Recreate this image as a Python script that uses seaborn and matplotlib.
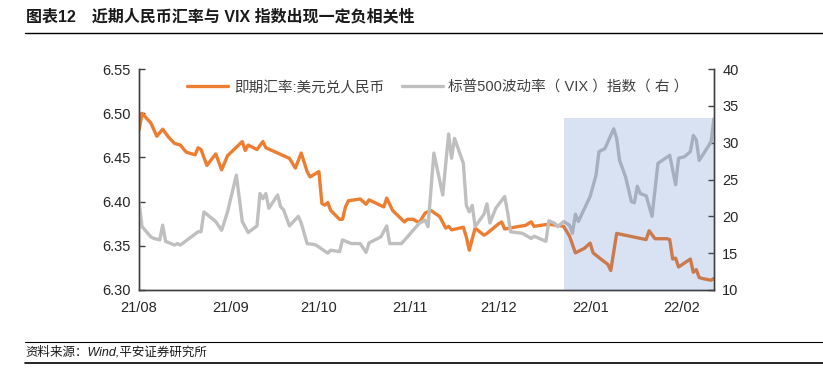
import pandas as pd
import matplotlib
matplotlib.use("Agg")
import matplotlib.pyplot as plt
import matplotlib.dates as mdates
import seaborn as sns

# USD/CNY spot rate (left axis)
cny_dates = ["2021-08-01", "2021-08-02", "2021-08-05", "2021-08-07", "2021-08-09", "2021-08-11",
             "2021-08-13", "2021-08-15", "2021-08-17", "2021-08-20", "2021-08-21", "2021-08-22",
             "2021-08-24", "2021-08-27", "2021-08-29", "2021-08-31", "2021-09-05", "2021-09-06",
             "2021-09-07", "2021-09-10", "2021-09-12", "2021-09-13", "2021-09-21", "2021-09-23",
             "2021-09-25", "2021-09-27", "2021-09-28", "2021-10-01", "2021-10-02", "2021-10-03",
             "2021-10-04", "2021-10-05", "2021-10-08", "2021-10-09", "2021-10-10", "2021-10-11",
             "2021-10-15", "2021-10-17", "2021-10-18", "2021-10-23", "2021-10-24", "2021-10-26",
             "2021-10-30", "2021-10-31", "2021-11-02", "2021-11-04", "2021-11-06", "2021-11-08",
             "2021-11-11", "2021-11-13", "2021-11-14", "2021-11-15", "2021-11-19", "2021-11-20",
             "2021-11-21", "2021-11-23", "2021-11-26", "2021-11-27", "2021-12-01", "2021-12-02",
             "2021-12-03", "2021-12-08", "2021-12-10", "2021-12-12", "2021-12-13", "2021-12-17",
             "2021-12-19", "2021-12-23", "2021-12-25", "2021-12-27", "2021-12-30", "2022-01-01",
             "2022-01-02", "2022-01-05", "2022-01-07", "2022-01-08", "2022-01-10", "2022-01-20",
             "2022-01-21", "2022-01-23", "2022-01-27", "2022-01-28", "2022-01-29", "2022-01-30",
             "2022-01-31", "2022-02-04", "2022-02-05", "2022-02-06", "2022-02-07", "2022-02-08",
             "2022-02-11", "2022-02-12"]
cny_values = [6.481, 6.500, 6.489, 6.474, 6.482, 6.473,
              6.466, 6.464, 6.456, 6.453, 6.461, 6.459,
              6.441, 6.454, 6.436, 6.452, 6.468, 6.458,
              6.464, 6.459, 6.468, 6.461, 6.449, 6.438,
              6.455, 6.434, 6.428, 6.434, 6.398, 6.396,
              6.399, 6.390, 6.380, 6.380, 6.394, 6.401,
              6.403, 6.397, 6.402, 6.394, 6.404, 6.390,
              6.377, 6.380, 6.380, 6.376, 6.387, 6.390,
              6.383, 6.370, 6.372, 6.368, 6.371, 6.360,
              6.345, 6.370, 6.362, 6.364, 6.375, 6.377,
              6.369, 6.372, 6.373, 6.377, 6.372, 6.374,
              6.374, 6.372, 6.361, 6.342, 6.347, 6.353,
              6.342, 6.334, 6.329, 6.322, 6.364, 6.357,
              6.367, 6.358, 6.358, 6.357, 6.335, 6.336,
              6.326, 6.335, 6.320, 6.323, 6.314, 6.313,
              6.311, 6.313]

# VIX index (right axis)
vix_dates = ["2021-08-01", "2021-08-02", "2021-08-05", "2021-08-06", "2021-08-08", "2021-08-09",
             "2021-08-10", "2021-08-13", "2021-08-14", "2021-08-15", "2021-08-16", "2021-08-21",
             "2021-08-22", "2021-08-23", "2021-08-27", "2021-08-29", "2021-08-31", "2021-09-03",
             "2021-09-05", "2021-09-07", "2021-09-10", "2021-09-11", "2021-09-12", "2021-09-13",
             "2021-09-14", "2021-09-17", "2021-09-18", "2021-09-19", "2021-09-21", "2021-09-24",
             "2021-09-25", "2021-09-27", "2021-09-29", "2021-09-30", "2021-10-04", "2021-10-05",
             "2021-10-08", "2021-10-09", "2021-10-12", "2021-10-15", "2021-10-17", "2021-10-18",
             "2021-10-22", "2021-10-24", "2021-10-25", "2021-10-29", "2021-10-31", "2021-11-04",
             "2021-11-06", "2021-11-07", "2021-11-09", "2021-11-12", "2021-11-14", "2021-11-15",
             "2021-11-16", "2021-11-19", "2021-11-20", "2021-11-21", "2021-11-22", "2021-11-23",
             "2021-11-26", "2021-11-27", "2021-11-28", "2021-11-30", "2021-12-03", "2021-12-04",
             "2021-12-05", "2021-12-09", "2021-12-12", "2021-12-13", "2021-12-17", "2021-12-18",
             "2021-12-20", "2021-12-21", "2021-12-23", "2021-12-25", "2021-12-26", "2021-12-27",
             "2021-12-28", "2022-01-01", "2022-01-03", "2022-01-04", "2022-01-06", "2022-01-09",
             "2022-01-10", "2022-01-11", "2022-01-13", "2022-01-15", "2022-01-16", "2022-01-17",
             "2022-01-18", "2022-01-20", "2022-01-22", "2022-01-24", "2022-01-28", "2022-01-30",
             "2022-01-31", "2022-02-02", "2022-02-04", "2022-02-05", "2022-02-06", "2022-02-07",
             "2022-02-11", "2022-02-12"]
vix_values = [21.85, 18.6, 17.2, 17.0, 16.8, 18.8,
              16.6, 16.1, 16.3, 16.1, 16.4, 17.9,
              17.9, 20.6, 19.3, 18.1, 20.6, 25.6,
              19.3, 17.8, 18.7, 23.1, 22.4, 23.1,
              21.1, 22.9, 21.3, 20.9, 18.7, 20.0,
              19.1, 16.3, 16.2, 16.1, 15.0, 15.4,
              15.2, 16.8, 16.3, 16.3, 15.1, 16.4,
              17.2, 18.7, 16.3, 16.3, 17.2, 19.05,
              19.5, 18.6, 28.6, 22.9, 31.2, 27.9,
              30.6, 27.2, 21.5, 20.6, 21.5, 18.6,
              20.3, 21.7, 19.1, 21.1, 22.7, 20.6,
              17.9, 17.7, 17.0, 17.3, 16.6, 19.4,
              19.05, 18.6, 19.3, 18.8, 17.7, 20.3,
              19.3, 22.7, 25.6, 28.8, 29.2, 31.9,
              30.6, 27.6, 25.4, 22.0, 21.85, 24.1,
              23.1, 22.8, 20.0, 27.2, 28.3, 24.3,
              27.9, 28.1, 28.8, 31.0, 30.4, 27.6,
              30.1, 33.3]

shade_start = "2021-12-23"
shade_end = "2022-02-12"
shade_top = 33.3

cny_label = "即期汇率:美元兑人民币"
vix_label = "标普500波动率（ VIX ）指数（ 右 ）"
title = "图表12　近期人民币汇率与 VIX 指数出现一定负相关性"
source = "资料来源：Wind,平安证券研究所"

sns.set_style("white")
plt.rcParams["font.family"] = ["Liberation Sans", "Noto Sans CJK SC"]

cny = pd.DataFrame({"date": pd.to_datetime(cny_dates), "value": cny_values})
vix = pd.DataFrame({"date": pd.to_datetime(vix_dates), "value": vix_values})

fig = plt.figure(figsize=(8.23, 3.8), dpi=100)
ax1 = fig.add_axes([0.169, 0.237, 0.6985, 0.581])
ax2 = ax1.twinx()

orange = "#ED7D31"
grey = "#BFBFBF"
sns.lineplot(data=cny, x="date", y="value", ax=ax1, color=orange, linewidth=2.4,
             label=cny_label, legend=False)
sns.lineplot(data=vix, x="date", y="value", ax=ax2, color=grey, linewidth=2.4,
             label=vix_label, legend=False, zorder=2)

# highlighted window, drawn over both lines
ax2.fill_between(pd.to_datetime([shade_start, shade_end]), 10, shade_top,
                 color="#4472C4", alpha=0.2, linewidth=0, zorder=3)

ax1.set_xlim(pd.Timestamp("2021-08-01"), pd.Timestamp("2022-02-12"))
ax1.set_ylim(6.30, 6.55)
ax2.set_ylim(10, 40)
ax1.set_yticks([6.30, 6.35, 6.40, 6.45, 6.50, 6.55])
ax1.set_yticklabels([f"{v:.2f}" for v in ax1.get_yticks()])
ax2.set_yticks(range(10, 41, 5))
ax1.xaxis.set_major_locator(mdates.MonthLocator())
ax1.xaxis.set_major_formatter(mdates.DateFormatter("%y/%m"))

for ax in (ax1, ax2):
    ax.set_xlabel("")
    ax.set_ylabel("")
    ax.spines["top"].set_visible(False)
    for s in ("left", "right", "bottom"):
        ax.spines[s].set_color("#404040")
        ax.spines[s].set_linewidth(1.0)
    ax.tick_params(direction="in", length=4, width=1, color="#404040",
                   labelsize=10.5, labelcolor="#262626", pad=6)
ax1.tick_params(axis="x", pad=8)

h1, l1 = ax1.get_legend_handles_labels()
h2, l2 = ax2.get_legend_handles_labels()
leg = ax1.legend(h1 + h2, l1 + l2, loc="center", bbox_to_anchor=(0.52, 0.918),
                 ncol=2, frameon=False, fontsize=10.5, handlelength=2.8,
                 columnspacing=1.2, handletextpad=0.4)
for t in leg.get_texts():
    t.set_color("#404040")
leg.set_zorder(10)

fig.text(0.031, 0.958, title, fontsize=11.5, fontweight="bold", va="center", ha="left",
         color="#1a1a1a")
fig.add_artist(plt.Line2D([0.03, 1.0], [0.913, 0.913], color="black", linewidth=1.0))
fig.add_artist(plt.Line2D([0.03, 1.0], [0.1, 0.1], color="black", linewidth=0.8))
fig.add_artist(plt.Line2D([0.03, 1.0], [0.045, 0.045], color="black", linewidth=1.2))
fig.text(0.031, 0.073, source, fontsize=9, style="italic", va="center", ha="left",
         color="#1a1a1a")

fig.savefig("out.png", dpi=100)
